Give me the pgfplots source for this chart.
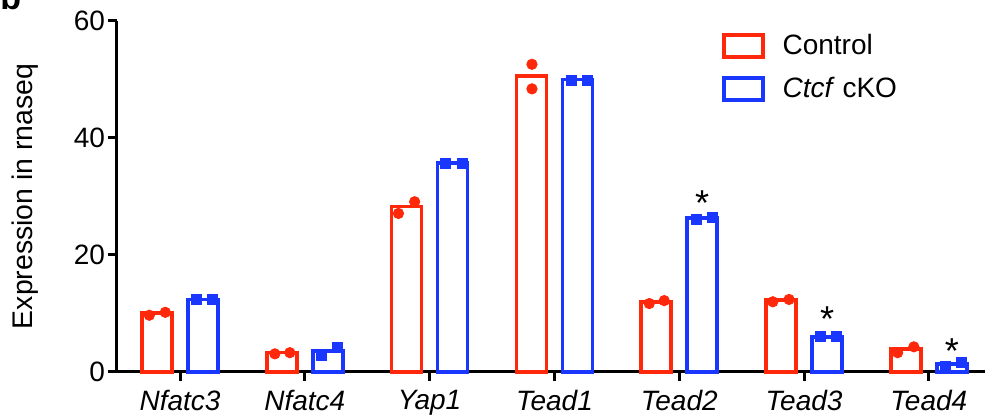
\documentclass[border=0pt]{standalone}
\usepackage{fontspec}
\setmainfont{Liberation Sans}
\usepackage{pgfplots}
\pgfplotsset{compat=1.18}
\usepackage{pgfplotstable}
\definecolor{cred}{RGB}{255,40,10}
\definecolor{cblue}{RGB}{25,55,255}

\pgfplotstableread{
x ctrl cko
0 10.05 12.4
1 3.3 3.6
2 28.3 35.7
3 50.6 50.0
4 12.0 26.3
5 12.3 6.0
6 3.9 1.4
}\means

\pgfplotstableread{
x y
-0.246 9.7
-0.118 10.2
0.76 3.1
0.88 3.3
1.75 27.1
1.88 29.1
2.82 52.6
2.82 48.4
3.76 11.7
3.88 12.2
4.75 12.0
4.88 12.4
5.75 3.3
5.88 4.3
}\ctrlpts

\pgfplotstableread{
x y
0.134 12.4
0.259 12.4
1.136 2.9
1.262 4.2
2.13 35.7
2.26 35.7
3.134 49.9
3.262 49.9
4.136 26.0
4.262 26.4
5.13 6.0
5.26 6.0
6.13 0.9
6.26 1.6
}\ckopts

\begin{document}
\begin{tikzpicture}
\begin{axis}[
  at={(0,0)}, anchor=south west,
  scale only axis, width=434pt, height=175.5pt,
  xmin=-0.505, xmax=6.45, ymin=0, ymax=60,
  enlargelimits=false, clip=false,
  axis lines=left,
  axis line style={-, line width=1.5pt, black},
  tick style={line width=1.5pt, black},
  major tick length=4.5pt, tick align=outside,
  xtick={0,1,2,3,4,5,6},
  xticklabels={\textit{Nfatc3},\textit{Nfatc4},\textit{Yap1},\textit{Tead1},\textit{Tead2},\textit{Tead3},\textit{Tead4}},
  ytick={0,20,40,60},
  yticklabels={0,20,40,60},
  /pgf/number format/assume math mode=true,
  ticklabel style={font=\fontsize{14}{14}\selectfont},
  xticklabel style={yshift=-1pt},
  yticklabel style={xshift=2pt},
  ylabel={Expression in rnaseq},
  ylabel style={font=\fontsize{14.2}{14}\selectfont, at={(axis description cs:-0.0968,0.5)}, anchor=base},
  legend style={draw=none, fill=none, inner sep=0pt, row sep=6pt,
    font=\fontsize{14}{14}\selectfont,
    at={(rel axis cs:0.697,0.975)}, anchor=north west},
  legend cell align=left,
]
\addlegendimage{legend image code/.code={\draw[cred, line width=1.75pt] (0pt,-5.5pt) rectangle (19.5pt,5.5pt); \path (27pt,0pt);}}
\addlegendentry{Control}
\addlegendimage{legend image code/.code={\draw[cblue, line width=1.75pt] (0pt,-5.5pt) rectangle (19.5pt,5.5pt); \path (27pt,0pt);}}
\addlegendentry{\textit{Ctcf} cKO}

\addplot[ybar, draw=cred, fill=none, line width=1.75pt, bar width=15pt, bar shift=-11.5pt, forget plot] table[x=x,y=ctrl]{\means};
\addplot[ybar, draw=cblue, fill=none, line width=1.75pt, bar width=15pt, bar shift=11.5pt, forget plot] table[x=x,y=cko]{\means};
\addplot[only marks, mark=*, mark size=2.6pt, color=cred, forget plot] table[x=x,y=y]{\ctrlpts};
\addplot[only marks, mark=square*, mark size=2.5pt, color=cblue, forget plot] table[x=x,y=y]{\ckopts};

\node[font=\fontsize{18}{18}\selectfont, anchor=north, inner sep=0pt] at ([xshift=11.5pt]axis cs:4,31.1) {*};
\node[font=\fontsize{18}{18}\selectfont, anchor=north, inner sep=0pt] at ([xshift=11.5pt]axis cs:5,11.3) {*};
\node[font=\fontsize{18}{18}\selectfont, anchor=north, inner sep=0pt] at ([xshift=11.5pt]axis cs:6,5.75) {*};
\end{axis}
\node[anchor=base west, font=\bfseries\fontsize{17}{17}\selectfont, inner sep=0pt] at (-58.5pt,181pt) {b};
\pgfresetboundingbox
\useasboundingbox (-58.5pt,-21.5pt) rectangle (434pt,186pt);
\end{tikzpicture}
\end{document}
